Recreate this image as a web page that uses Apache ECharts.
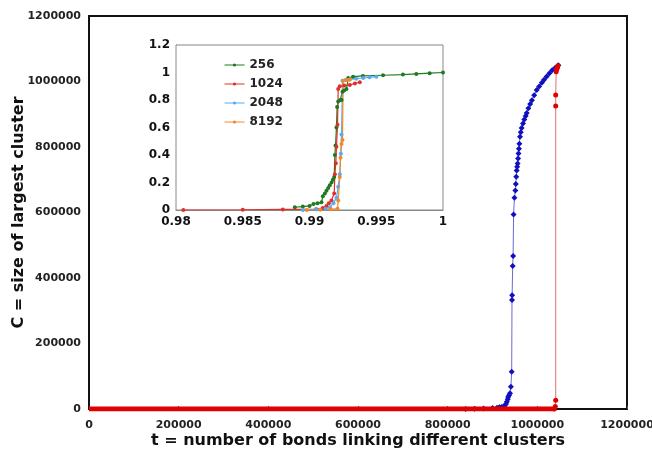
<!DOCTYPE html>
<html><head><meta charset="utf-8">
<script src="https://cdn.jsdelivr.net/npm/echarts@6/dist/echarts.min.js"></script>
<style>html,body{margin:0;padding:0;background:#fff}#c{width:652px;height:456px}</style>
</head><body><div id="c"></div>
<script>
// Main chart: t vs C
const blueMain = [[840000,0],[860000,800],[880000,1500],[900000,3000],[910000,4000],[915000,5000],[920000,6000],[924000,7000],[927000,10000],[930000,15000],[932000,22000],[934000,30000],[935000,37000],[937000,42000],[939000,48000],[941000,68000],[942800,114000],[943500,333000],[943800,347000],[945000,437000],[946000,467000],[947000,594000],[949000,645000],[951000,667000],[952000,687000],[953000,709000],[954000,728000],[955000,740000],[956000,750000],[957000,765000],[958000,780000],[959000,795000],[960000,810000],[961300,831000],[963000,845000],[965000,858000],[968000,872000],[971000,884000],[974000,895000],[976300,904000],[980000,918000],[984000,931000],[988000,943000],[993000,958000],[998600,974000],[1004000,985000],[1010000,996000],[1015000,1005000],[1020900,1015000],[1027000,1025000],[1033000,1034000],[1040000,1042000],[1046800,1050000]];
const redBase = [[0,0],[1038000,0]];
const redMain = [[1038000,0],[1040000,8000],[1041000,27000],[1041000,925000],[1041000,959000],[1042000,1030000],[1043000,1036000],[1044000,1040000],[1045000,1044000],[1046000,1048000]];
// Inset: normalized C vs t/N
const g256 = [[0.9889,0.02],[0.9895,0.025],[0.9900,0.03],[0.9903,0.044],[0.9906,0.05],[0.9909,0.056],[0.9910,0.10],[0.99115,0.12],[0.99127,0.14],[0.9914,0.16],[0.99152,0.18],[0.99165,0.20],[0.99175,0.22],[0.99185,0.24],[0.9919,0.40],[0.99195,0.47],[0.99202,0.60],[0.99207,0.75],[0.99215,0.79],[0.9923,0.80],[0.9924,0.80],[0.99247,0.86],[0.9926,0.87],[0.99277,0.88],[0.9929,0.96],[0.99327,0.97],[0.9940,0.975],[0.99551,0.98],[0.9970,0.985],[0.998,0.99],[0.9990,0.995],[1.0,1.0]];
const g1024 = [[0.98055,0],[0.9850,0.002],[0.9880,0.004],[0.9905,0.005],[0.9910,0.015],[0.99127,0.03],[0.99145,0.05],[0.99165,0.07],[0.99185,0.12],[0.9919,0.26],[0.99197,0.34],[0.99202,0.46],[0.9921,0.62],[0.99215,0.88],[0.99227,0.90],[0.9926,0.905],[0.99302,0.91],[0.9934,0.92],[0.99377,0.93]];
const g2048 = [[0.9895,0],[0.9905,0.005],[0.9912,0.01],[0.99152,0.02],[0.9918,0.05],[0.99202,0.09],[0.99215,0.17],[0.99227,0.26],[0.99235,0.41],[0.9924,0.55],[0.99247,0.94],[0.9927,0.945],[0.99302,0.95],[0.9935,0.955],[0.99402,0.96],[0.9945,0.965],[0.99501,0.97]];
const g8192 = [[0.9898,0],[0.9908,0.002],[0.9916,0.005],[0.9921,0.01],[0.99215,0.07],[0.99227,0.24],[0.99232,0.38],[0.9924,0.48],[0.99247,0.51],[0.99252,0.94],[0.9928,0.945],[0.99302,0.95]];
const insetNames = ['256','1024','2048','8192'];
const insetColors = ['#1e7a1e','#e0302a','#5aaaf0','#f08a28'];

const F = 'DejaVu Sans';
const chart = echarts.init(document.getElementById('c'), null, {renderer:'canvas'});
chart.setOption({
  animation:false,
  backgroundColor:'#fff',
  textStyle:{fontFamily:F},
  legend:{
    data:insetNames, orient:'vertical', left:219, top:53, itemGap:5, itemWidth:20, itemHeight:4, z:20,
    lineStyle:{width:1}, itemStyle:{},
    textStyle:{fontFamily:F, fontSize:12, fontWeight:'bold', color:'#222', lineHeight:14}
  },
  grid:[
    {left:89, right:25, top:16, bottom:47, show:true, borderColor:'#111', borderWidth:2, outerBoundsMode:'none', containLabel:false},
    {left:176, right:209, top:45, bottom:246, show:true, borderColor:'#888', borderWidth:1, backgroundColor:'#fff', z:5, outerBoundsMode:'none', containLabel:false}
  ],
  xAxis:[
    {gridIndex:0, type:'value', min:0, max:1200000, interval:200000,
     name:'t = number of bonds linking different clusters', nameLocation:'middle', nameGap:24, nameMoveOverlap:false,
     nameTextStyle:{fontFamily:F, fontSize:16, fontWeight:'bold', color:'#111'},
     axisLine:{lineStyle:{color:'#111', width:2}}, axisTick:{show:true, inside:true, length:3, lineStyle:{color:'#555'}},
     axisLabel:{fontFamily:F, fontSize:11, fontWeight:'bold', color:'#222', margin:11, formatter:v=>String(v)}, splitLine:{show:false}},
    {gridIndex:1, type:'value', min:0.98, max:1, interval:0.005,
     axisLine:{lineStyle:{color:'#888'}}, axisTick:{show:false},
     axisLabel:{fontFamily:F, fontSize:12, fontWeight:'bold', color:'#111', margin:6, formatter:v=>String(+v.toFixed(3))}, splitLine:{show:false}}
  ],
  yAxis:[
    {gridIndex:0, type:'value', min:0, max:1200000, interval:200000,
     name:'C = size of largest cluster', nameLocation:'middle', nameGap:62, nameMoveOverlap:false,
     nameTextStyle:{fontFamily:F, fontSize:16, fontWeight:'bold', color:'#111'},
     axisLine:{lineStyle:{color:'#111', width:2}}, axisTick:{show:false},
     axisLabel:{fontFamily:F, fontSize:11, fontWeight:'bold', color:'#222', margin:8, formatter:v=>String(v)}, splitLine:{show:false}},
    {gridIndex:1, type:'value', min:0, max:1.2, interval:0.2,
     axisLine:{lineStyle:{color:'#888'}}, axisTick:{show:false},
     axisLabel:{fontFamily:F, fontSize:12, fontWeight:'bold', color:'#111', margin:6, formatter:v=>String(+v.toFixed(1))},
     splitLine:{show:true, lineStyle:{color:'#e6e6e6'}}}
  ],
  series:[
    {type:'line', xAxisIndex:0, yAxisIndex:0, data:blueMain, symbol:'diamond', symbolSize:6,
     itemStyle:{color:'#1010c0'}, lineStyle:{color:'#6a6ad0', width:1}, z:3},
    {type:'line', xAxisIndex:0, yAxisIndex:0, data:redBase, symbol:'none',
     lineStyle:{color:'#e00000', width:5}, z:4},
    {type:'line', xAxisIndex:0, yAxisIndex:0, data:redMain, symbol:'circle', symbolSize:5,
     itemStyle:{color:'#e00000'}, lineStyle:{color:'#e07070', width:1}, z:4},
    ...[g256,g1024,g2048,g8192].map((d,i)=>({
      name:insetNames[i], type:'line', xAxisIndex:1, yAxisIndex:1, data:d,
      symbol:'circle', symbolSize:4, itemStyle:{color:insetColors[i]},
      lineStyle:{color:insetColors[i], width:1.2}, z:10
    }))
  ]
});
</script></body></html>
